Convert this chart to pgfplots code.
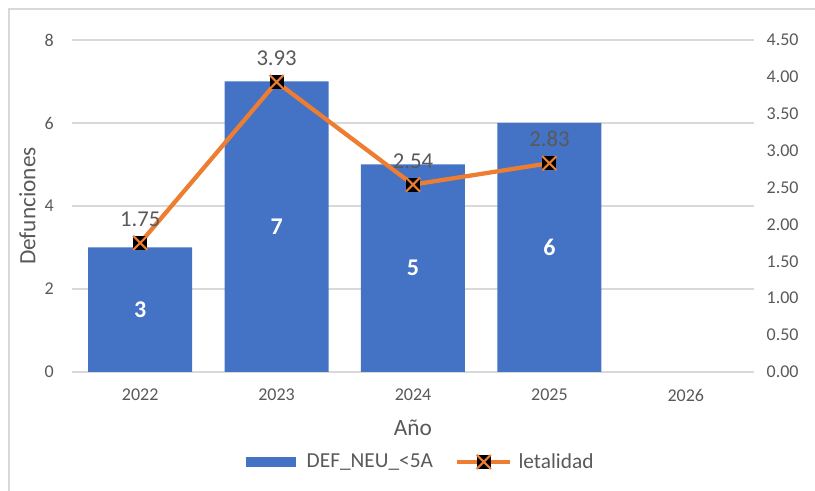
\documentclass[border=0pt]{standalone}
\usepackage{fontspec}
\setmainfont{Carlito}
\usepackage{pgfplots}
\pgfplotsset{compat=1.18}
\definecolor{barblue}{HTML}{4472C4}
\definecolor{lineor}{HTML}{ED7D31}
\definecolor{txt}{HTML}{595959}
\definecolor{gridc}{HTML}{D9D9D9}
\pgfdeclareplotmark{sqx}{%
  \pgfpathrectangle{\pgfpoint{-\pgfplotmarksize}{-\pgfplotmarksize}}{\pgfpoint{2\pgfplotmarksize}{2\pgfplotmarksize}}%
  \pgfsetfillcolor{black}\pgfusepathqfill
  \pgfpathmoveto{\pgfpoint{-\pgfplotmarksize}{-\pgfplotmarksize}}\pgfpathlineto{\pgfpoint{\pgfplotmarksize}{\pgfplotmarksize}}%
  \pgfpathmoveto{\pgfpoint{-\pgfplotmarksize}{\pgfplotmarksize}}\pgfpathlineto{\pgfpoint{\pgfplotmarksize}{-\pgfplotmarksize}}%
  \pgfsetstrokecolor{lineor}\pgfsetlinewidth{1.6pt}\pgfusepathqstroke}
\begin{document}
\begin{tikzpicture}
\begin{axis}[
  at={(0pt,0pt)}, anchor=origin,
  scale only axis, width=511.5pt, height=249pt,
  xmin=-0.5, xmax=4.5, ymin=0, ymax=8,
  xtick={0,1,2,3,4}, xticklabels={2022,2023,2024,2025,2026},
  ytick={0,2,4,6,8},
  axis lines=left, axis line style={draw=none},
  tick style={draw=none},
  ymajorgrids, grid style={gridc, line width=0.9pt},
  /pgf/number format/assume math mode=true,
  ticklabel style={font=\fontsize{13.5}{16}\selectfont, text=txt},
  xticklabel style={yshift=-7pt},
  yticklabel style={xshift=-8pt},
  xlabel={Año}, ylabel={Defunciones},
  label style={font=\fontsize{17.5}{20}\selectfont, text=txt},
  xlabel style={yshift=-7pt},
  ylabel style={yshift=0pt},
  clip=false,
]
\addplot[ybar, bar width=78pt, fill=barblue, draw=none] coordinates {(0,3) (1,7) (2,5) (3,6)};
\addplot[draw=none, nodes near coords, point meta=explicit symbolic,
  every node near coord/.append style={anchor=center, text=white, font=\fontsize{18}{20}\selectfont\bfseries}]
  coordinates {(0,1.5)[3] (1,3.5)[7] (2,2.5)[5] (3,3)[6]};
\end{axis}
\begin{axis}[
  at={(0pt,0pt)}, anchor=origin,
  scale only axis, width=511.5pt, height=249pt,
  xmin=-0.5, xmax=4.5, ymin=0, ymax=4.5,
  ytick={0,0.5,...,4.5},
  axis y line*=right, axis x line=none, axis line style={draw=none},
  tick style={draw=none},
  /pgf/number format/assume math mode=true,
  yticklabel={\pgfmathprintnumber[fixed,fixed zerofill,precision=2]{\tick}},
  ticklabel style={font=\fontsize{13.5}{16}\selectfont, text=txt},
  yticklabel style={xshift=6pt},
  clip=false,
  legend columns=2,
  legend style={at={(0.512,-0.271)}, anchor=center, draw=none, fill=none,
    font=\fontsize{16}{18}\selectfont, text=txt,
    /tikz/every even column/.append style={column sep=14.5pt}},
]
\addlegendimage{legend image code/.code={\fill[barblue] (0pt,-3.5pt) rectangle (36.75pt,3.5pt); \path (43pt,0pt);}}
\addlegendentry{DEF\_NEU\_<5A}
\addplot[lineor, line width=3.2pt, mark=sqx, mark size=5.3pt,
  nodes near coords, point meta=explicit symbolic,
  every node near coord/.append style={anchor=south, text=txt, yshift=8pt, font=\fontsize{17}{19}\selectfont},
  legend image code/.code={\draw[lineor, line width=3.2pt] (0pt,0pt) -- (40pt,0pt); \path (42.5pt,0pt); \pgftransformshift{\pgfpoint{20pt}{0pt}}\pgfuseplotmark{sqx};}]
  coordinates {(0,1.75)[1.75] (1,3.93)[3.93] (2,2.54)[2.54] (3,2.83)[2.83]};
\addlegendentry{letalidad}
\end{axis}
\pgfresetboundingbox
\path[use as bounding box] (-105.15pt,-89.25pt) rectangle (506.1pt,279pt);
\draw[gridc, line width=1.2pt] (-98.4pt,-89.25pt) -- (-98.4pt,272.25pt) -- (506.1pt,272.25pt);
\end{tikzpicture}
\end{document}
